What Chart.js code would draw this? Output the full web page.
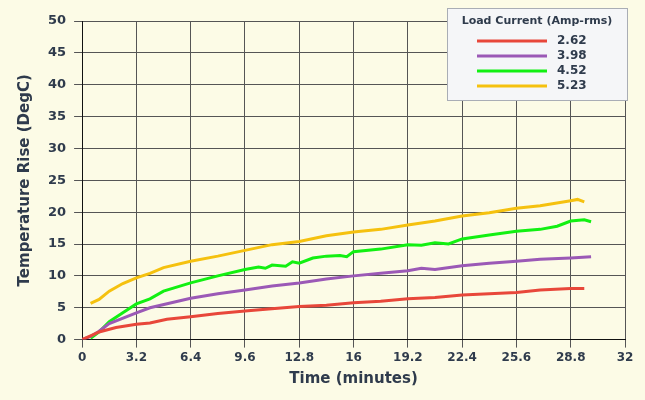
<!DOCTYPE html>
<html>
<head>
<meta charset="utf-8">
<script src="https://cdn.jsdelivr.net/npm/chart.js@4"></script>
<style>
  body { margin: 0; background: #fcfbe6; }
  #wrap { width: 645px; height: 400px; }
</style>
</head>
<body>
<div id="wrap"><canvas id="c"></canvas></div>
<script>
// Load current series (Amp-rms)
const seriesLabels = ['2.62', '3.98', '4.52', '5.23'];
const seriesColors = ['#e8473a', '#9b59b6', '#12f012', '#f5c10f'];

const red = [[0,0],[0.5,0.6],[1,1.2],[2,1.9],[3.2,2.4],[4,2.6],[5,3.2],[6.4,3.6],[8,4.1],[9.6,4.5],[11,4.8],[12.8,5.2],[14.4,5.4],[16,5.8],[17.6,6.0],[19.2,6.4],[20.8,6.6],[22.4,7.0],[24,7.2],[25.6,7.4],[27,7.8],[28.8,8.0],[29.6,8.0]];
const purple = [[0,0],[0.5,0.5],[1,1.3],[1.6,2.5],[3.2,4.2],[4,5.0],[6.4,6.5],[8,7.2],[9.6,7.8],[11.2,8.4],[12.8,8.9],[14.4,9.5],[16,10.0],[17.6,10.4],[19.2,10.8],[20,11.2],[20.8,11.0],[22.4,11.6],[24,12.0],[25.6,12.3],[27,12.6],[28.8,12.8],[30,13.0]];
const green = [[0.5,0.2],[1,1.2],[1.6,2.8],[2.4,4.2],[3.2,5.6],[4,6.4],[4.8,7.6],[6.4,8.9],[8,10.0],[9.6,11.0],[10.4,11.4],[10.8,11.2],[11.2,11.7],[12,11.5],[12.4,12.2],[12.8,12.0],[13.6,12.8],[14.4,13.1],[15.2,13.2],[15.6,13.0],[16,13.8],[17.6,14.2],[19.2,14.9],[20,14.8],[20.8,15.2],[21.6,15.0],[22.4,15.8],[24,16.4],[25.6,17.0],[27,17.3],[28,17.8],[28.8,18.6],[29.6,18.8],[30,18.5]];
const yellow = [[0.5,5.7],[1,6.3],[1.6,7.6],[2.4,8.8],[3.2,9.7],[4,10.4],[4.8,11.3],[6.4,12.3],[8,13.1],[9.6,14.0],[11.2,14.9],[12.8,15.4],[14.4,16.3],[16,16.9],[17.6,17.3],[19.2,18.0],[20.8,18.6],[22.4,19.4],[24,19.9],[25.6,20.6],[27,21.0],[28.8,21.8],[29.2,22.0],[29.6,21.6]];
const allSeries = [red, purple, green, yellow];

const font = 'DejaVu Sans, sans-serif';
const textColor = '#2f3b4c';

const legendBox = {
    id: 'legendBox',
    afterDraw(chart) {
        const ctx = chart.ctx;
        const x = 447, y = 8, w = 180, h = 92;
        ctx.save();
        ctx.fillStyle = '#f5f6f8';
        ctx.strokeStyle = '#a9adb5';
        ctx.lineWidth = 1;
        ctx.fillRect(x, y, w, h);
        ctx.strokeRect(x + 0.5, y + 0.5, w, h);
        ctx.fillStyle = textColor;
        ctx.font = 'bold 11px ' + font;
        ctx.textAlign = 'center';
        ctx.textBaseline = 'middle';
        ctx.fillText('Load Current (Amp-rms)', x + w / 2, y + 13);
        ctx.font = 'bold 12px ' + font;
        ctx.textAlign = 'left';
        seriesLabels.forEach((lab, i) => {
            const yy = y + 33 + i * 15;
            ctx.strokeStyle = seriesColors[i];
            ctx.lineWidth = 3;
            ctx.beginPath();
            ctx.moveTo(x + 30, yy);
            ctx.lineTo(x + 100, yy);
            ctx.stroke();
            ctx.fillText(lab, x + 110, yy);
        });
        ctx.restore();
    }
};

new Chart(document.getElementById('c'), {
    type: 'line',
    data: {
        datasets: allSeries.map((s, i) => ({
            label: seriesLabels[i],
            data: s.map(p => ({ x: p[0], y: p[1] })),
            borderColor: seriesColors[i],
            borderWidth: 3,
            pointRadius: 0,
            tension: 0
        }))
    },
    options: {
        responsive: true,
        maintainAspectRatio: false,
        animation: false,
        layout: { padding: { top: 21, right: 20, left: 12, bottom: 8 } },
        plugins: { legend: { display: false }, tooltip: { enabled: false } },
        scales: {
            x: {
                type: 'linear',
                min: 0,
                max: 32,
                ticks: {
                    stepSize: 3.2,
                    color: textColor,
                    font: { family: font, size: 12, weight: 'bold' },
                    callback: v => Math.round(v * 10) / 10
                },
                grid: { color: '#555', lineWidth: 1, tickLength: 8 },
                border: { color: '#111', width: 1 },
                title: {
                    display: true,
                    text: 'Time (minutes)',
                    color: textColor,
                    font: { family: font, size: 15, weight: 'bold' },
                    padding: { top: 2 }
                }
            },
            y: {
                min: 0,
                max: 50,
                ticks: {
                    stepSize: 5,
                    padding: 8,
                    color: textColor,
                    font: { family: font, size: 13, weight: 'bold' }
                },
                grid: { color: '#555', lineWidth: 1, tickLength: 8 },
                border: { color: '#111', width: 1 },
                title: {
                    display: true,
                    text: 'Temperature Rise (DegC)',
                    color: textColor,
                    font: { family: font, size: 15, weight: 'bold' },
                    padding: { bottom: 6 }
                }
            }
        }
    },
    plugins: [legendBox]
});
</script>
</body>
</html>
